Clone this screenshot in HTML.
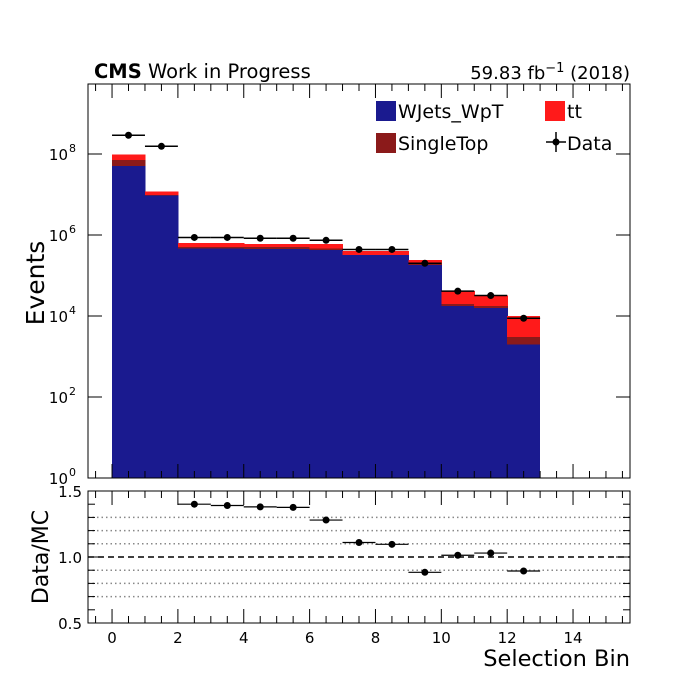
<!DOCTYPE html>
<html><head><meta charset="utf-8"><style>
body{margin:0;background:#fff;}
svg{display:block;font-family:"DejaVu Sans","Liberation Sans",sans-serif;}
</style></head><body>
<svg id="c" width="700" height="700" viewBox="0 0 700 700"></svg>
<script>
const bins=[0,1,2,3,4,5,6,7,8,9,10,11,12];
const wjets=[5.1e7,9.5e6,4.6e5,4.6e5,4.5e5,4.5e5,4.3e5,3.2e5,3.2e5,1.82e5,1.78e4,1.58e4,2.0e3];
const singletop=[2.0e7,3e5,5e4,5e4,5e4,5e4,3e4,5e3,5e3,2.8e4,2.2e3,2.0e3,1.0e3];
const ttbar=[2.5e7,2.2e6,1.2e5,1.2e5,1.0e5,1.0e5,1.4e5,7.5e4,7.5e4,3.0e4,2.1e4,1.42e4,7.0e3];
const data=[2.9e8,1.55e8,8.7e5,8.7e5,8.3e5,8.3e5,7.4e5,4.4e5,4.4e5,2.0e5,4.1e4,3.2e4,8.8e3];
const ratio=[3.0,12.0,1.40,1.39,1.38,1.376,1.28,1.11,1.096,0.884,1.013,1.03,0.894];
const xTicks=[0,2,4,6,8,10,12,14];
const yExps=[0,2,4,6,8];
const rTicks=[0.5,1.0,1.5];
const rGrid=[0.7,0.8,0.9,1.1,1.2,1.3];

const L=88,R=630,T=84,B=478,RT=491,RB=623;
const X=v=>L+(v+0.73)*(R-L)/16.46;
const Y=v=>B-40.5*Math.log10(v);
const YR=v=>RT+(1.5-v)*(RB-RT);
const svg=document.getElementById('c');
const NS='http://www.w3.org/2000/svg';
function el(t,a,p){const e=document.createElementNS(NS,t);for(const k in a)e.setAttribute(k,a[k]);(p||svg).appendChild(e);return e;}
function txt(s,a,p){const e=el('text',a,p);e.textContent=s;return e;}

const gb=el('g',{'shape-rendering':'crispEdges'});


bins.forEach((b,i)=>{
  const x0=X(b),x1=X(b+1)+(i<bins.length-1?0.6:0);
  const s1=wjets[i],s2=s1+singletop[i],s3=s2+ttbar[i];
  const r1=el('rect',{x:x0,y:Y(s1),width:x1-x0,height:B-Y(s1),fill:'#1a1a8f'},gb);
  
  
  const r2=el('rect',{x:x0,y:Y(s2),width:x1-x0,height:Y(s1)-Y(s2),fill:'#8b1a1a'},gb);
  
  
  const r3=el('rect',{x:x0,y:Y(s3),width:x1-x0,height:Y(s2)-Y(s3),fill:'#ff1a1a'},gb);
  
  
});
bins.forEach((b,i)=>{
  const y=Y(data[i]);
  const l=el('line',{x1:X(b),x2:X(b+1),y1:y,y2:y,stroke:'#000','stroke-width':1.5});
  
  
  const c=el('circle',{cx:X(b+0.5),cy:y,r:3.5,fill:'#000'});
  
  
});
const f1=el('rect',{x:L,y:T,width:R-L,height:B-T,fill:'none',stroke:'#000','stroke-width':1});


for(let v=-0.5;v<=15.5;v+=0.5){
  const maj=Math.abs(v%2)<1e-9, len=maj?14:7, x=X(v);
  [[B,T],[RB,RT]].forEach(([bt,tp])=>{
    el('line',{x1:x,x2:x,y1:bt,y2:bt-len,stroke:'#000'});
    el('line',{x1:x,x2:x,y1:tp,y2:tp+len,stroke:'#000'});
  });
}
xTicks.forEach(v=>{const t=txt(String(v),{x:X(v),y:643,'font-size':15,'text-anchor':'middle'});
  
  });
yExps.forEach(e=>{const y=Y(Math.pow(10,e));
  el('line',{x1:L,x2:L+14,y1:y,y2:y,stroke:'#000'});
  el('line',{x1:R,x2:R-14,y1:y,y2:y,stroke:'#000'});
  const t=txt('10',{x:L-20,y:y+6,'font-size':15,'text-anchor':'end'});
  
  
  txt(String(e),{x:L-19,y:y-2,'font-size':11,'text-anchor':'start'});
});
rGrid.forEach(v=>el('line',{x1:L,x2:R,y1:YR(v),y2:YR(v),stroke:'#888','stroke-dasharray':'1.5,3','stroke-width':1.5}));
const dl=el('line',{x1:L,x2:R,y1:YR(1),y2:YR(1),stroke:'#000','stroke-dasharray':'6,4','stroke-width':1.5});


for(let v=0.5;v<=1.5001;v+=0.1){const y=YR(v),len=(Math.abs(v-1)<1e-6||v<0.51||v>1.49)?14:7;
  el('line',{x1:L,x2:L+len,y1:y,y2:y,stroke:'#000'});el('line',{x1:R,x2:R-len,y1:y,y2:y,stroke:'#000'});}
rTicks.forEach(v=>{const t=txt(v.toFixed(1),{x:L-6,y:YR(v)+6,'font-size':15,'text-anchor':'end'});
  
  });
bins.forEach((b,i)=>{
  const v=ratio[i]; if(v>1.5||v<0.5)return; const y=YR(v);
  el('line',{x1:X(b),x2:X(b+1),y1:y,y2:y,stroke:'#000','stroke-width':1.2});
  const c=el('circle',{cx:X(b+0.5),cy:y,r:3.5,fill:'#000'});
  
  
});
const f2=el('rect',{x:L,y:RT,width:R-L,height:RB-RT,fill:'none',stroke:'#000'});


</script>
<svg width="700" height="700" style="position:absolute;left:0;top:0">
<text x="94" y="78" font-size="19.5" font-family="DejaVu Sans, sans-serif"><tspan font-weight="bold">CMS</tspan> Work in Progress</text>
<text x="630" y="79" font-size="18" text-anchor="end" font-family="DejaVu Sans, sans-serif">59.83 fb<tspan dy="-7" font-size="13">−1</tspan><tspan dy="7"> (2018)</tspan></text>
<text x="44" y="283" font-size="25" text-anchor="middle" transform="rotate(-90 44 283)" font-family="DejaVu Sans, sans-serif">Events</text>
<text x="48" y="557" font-size="22" text-anchor="middle" transform="rotate(-90 48 557)" font-family="DejaVu Sans, sans-serif">Data/MC</text>
<text x="630" y="666" font-size="22.5" text-anchor="end" font-family="DejaVu Sans, sans-serif">Selection Bin</text>
<g font-family="DejaVu Sans, sans-serif" font-size="19">
<rect x="376" y="101" width="20" height="20" fill="#1a1a8f"/><text x="398" y="118">WJets_WpT</text>
<rect x="545" y="101" width="20" height="20" fill="#ff1a1a"/><text x="567" y="118">tt</text>
<rect x="376" y="133" width="20" height="20" fill="#8b1a1a"/><text x="398" y="150">SingleTop</text>
<line x1="546" x2="566" y1="142" y2="142" stroke="#000" stroke-width="1.5"/><line x1="556" x2="556" y1="132" y2="152" stroke="#000" stroke-width="1.5"/><circle cx="556" cy="142" r="3.5"/><text x="567" y="150">Data</text>
</g>
</svg>
</body></html>
